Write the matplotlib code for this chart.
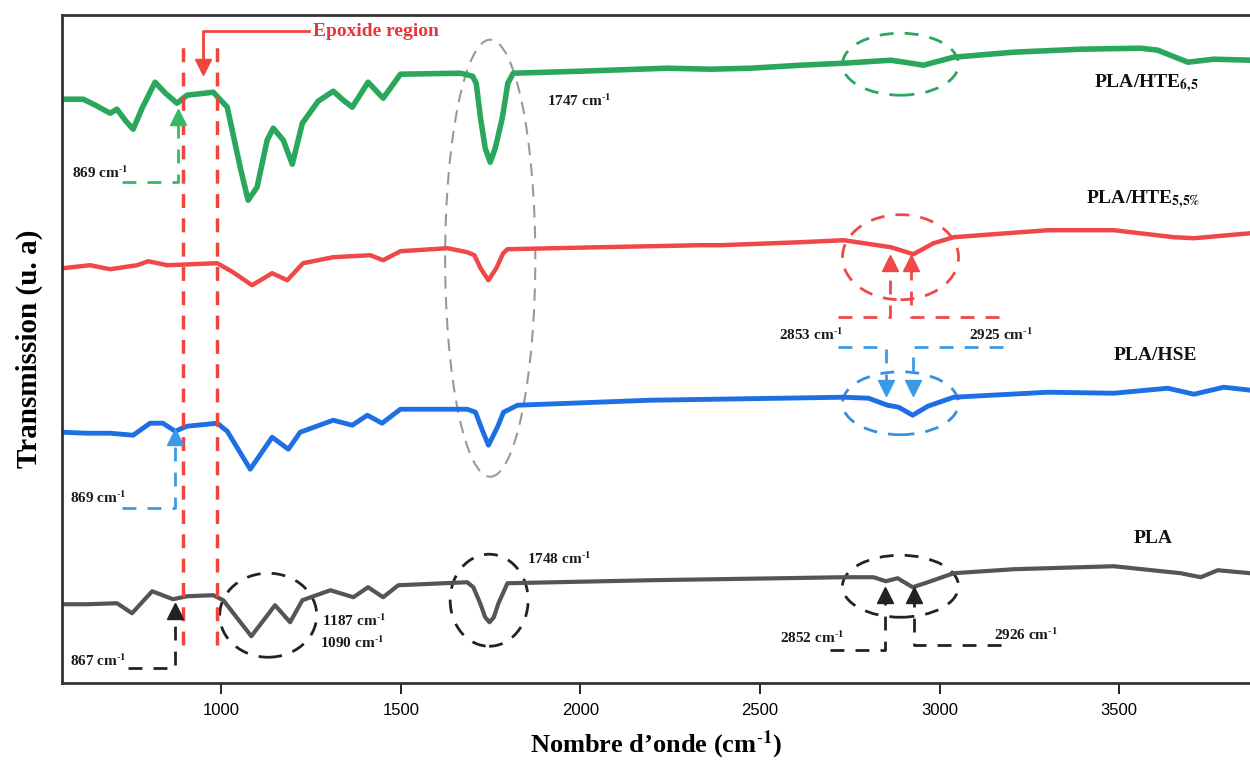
import matplotlib
matplotlib.use("Agg")
import matplotlib.pyplot as plt
from matplotlib.patches import Ellipse

plt.rcParams['font.family'] = ['Liberation Serif', 'DejaVu Serif']
plt.rcParams['mathtext.fontset'] = 'stix'

# spectra (wavenumber in cm-1, transmission in arbitrary units, already offset)
wn_hte65 = [557, 616, 650, 691, 710, 735, 755, 780, 816, 845, 877, 905, 978, 1017, 1053, 1075,
            1100, 1128, 1145, 1173, 1198, 1226, 1270, 1312, 1340, 1365, 1409, 1451, 1499, 1666,
            1700, 1710, 1722, 1735, 1749, 1763, 1783, 1798, 1813, 2000, 2242, 2362, 2474,
            2613, 2733, 2864, 2920, 2955, 3039, 3206, 3393, 3560, 3607, 3691, 3763, 3866]
tr_hte65 = [584, 584, 578, 570, 574, 562, 554, 575, 601, 590, 580, 588, 591, 576, 516, 483,
            496, 543, 555, 543, 519, 560, 582, 592, 583, 576, 601, 585, 609, 610,
            607, 600, 565, 535, 521, 535, 566, 600, 610, 612, 615, 614, 615,
            618, 620, 623, 620, 618, 626, 631, 634, 635, 633, 621, 624, 623]

wn_hte55 = [560, 635, 691, 766, 797, 850, 989, 1033, 1086, 1142, 1184, 1228, 1312, 1415, 1451,
            1499, 1630, 1685, 1705, 1722, 1744, 1766, 1785, 1797, 2056, 2334, 2390, 2613, 2733,
            2864, 2927, 2983, 3039, 3301, 3485, 3652, 3708, 3866]
tr_hte55 = [415, 418, 414, 418, 422, 418, 420, 411, 398, 410, 403, 420, 426, 428, 423,
            432, 435, 431, 428, 415, 403, 415, 430, 434, 436, 438, 438, 441, 443,
            436, 429, 440, 446, 453, 453, 446, 445, 450]

wn_hse = [557, 627, 691, 755, 802, 838, 872, 905, 989, 1017, 1081, 1142, 1187, 1220, 1312, 1365,
          1407, 1448, 1499, 1685, 1708, 1727, 1744, 1769, 1786, 1825, 2195, 2557, 2733, 2802,
          2855, 2886, 2925, 2967, 3039, 3301, 3485, 3635, 3708, 3791, 3866]
tr_hse = [251, 250, 250, 248, 260, 260, 252, 257, 260, 252, 214, 246, 234, 251, 263, 258,
          268, 260, 274, 274, 271, 253, 238, 256, 271, 278, 283, 285, 286, 285,
          278, 276, 268, 277, 286, 291, 290, 295, 289, 296, 293]

wn_pla = [557, 627, 710, 752, 808, 866, 905, 978, 1006, 1084, 1150, 1192, 1226, 1304, 1368, 1409,
          1451, 1493, 1685, 1702, 1721, 1735, 1747, 1759, 1772, 1797, 2195, 2557, 2733, 2816,
          2850, 2883, 2925, 2967, 3039, 3206, 3485, 3671, 3727, 3774, 3866]
tr_pla = [79, 79, 80, 70, 92, 84, 87, 88, 83, 47, 78, 61, 83, 93, 86, 96,
          86, 98, 101, 96, 80, 66, 61, 66, 80, 100, 103, 105, 106, 106,
          102, 105, 96, 101, 110, 114, 117, 110, 106, 113, 110]

xticks = [1000, 1500, 2000, 2500, 3000, 3500]

GREEN = '#2aa75c'
RED = '#f04848'
BLUE = '#1e6fe3'
GRAY = '#555555'

fig = plt.figure(figsize=(12.5, 7.6), dpi=100)
ax = fig.add_axes([0.0496, 0.101, 0.951, 0.879])

line_kw = dict(solid_joinstyle='round', solid_capstyle='round')
ax.plot(wn_hte65, tr_hte65, color=GREEN, lw=4, **line_kw)
ax.plot(wn_hte55, tr_hte55, color=RED, lw=3.2, **line_kw)
ax.plot(wn_hse, tr_hse, color=BLUE, lw=3.5, **line_kw)
ax.plot(wn_pla, tr_pla, color=GRAY, lw=3, **line_kw)

ax.set_xlim(557, 3866)
ax.set_ylim(0, 668)

# epoxide region
for xv in [894, 989]:
    ax.plot([xv, xv], [38, 641], color='#f0453a', lw=2.5, dashes=(4, 3))
ax.plot([950, 950, 1245], [618, 652, 652], color='#f0453a', lw=2)
ax.plot([950], [616], marker='v', color='#f0453a', ms=12)
ax.text(1256, 652, 'Epoxide region', color='#e8343a', fontsize=14, fontweight='bold', va='center')

# dashed ellipses
ax.add_patch(Ellipse((1749, 425), 251, 437, fill=False, ec='#999999', lw=1.5, ls=(0, (6, 4))))
ax.add_patch(Ellipse((2891, 619), 323, 62, fill=False, ec=GREEN, lw=2, ls=(0, (5, 4))))
ax.add_patch(Ellipse((2891, 426), 323, 85, fill=False, ec=RED, lw=2, ls=(0, (5, 4))))
ax.add_patch(Ellipse((2891, 280), 323, 63, fill=False, ec='#3a8ee0', lw=2, ls=(0, (5, 4))))
ax.add_patch(Ellipse((2891, 97), 323, 62, fill=False, ec='#222222', lw=2, ls=(0, (5, 4))))
ax.add_patch(Ellipse((1746, 83), 217, 92, fill=False, ec='#222222', lw=2, ls=(0, (5, 4))))
ax.add_patch(Ellipse((1131, 68), 270, 84, fill=False, ec='#222222', lw=2, ls=(0, (5, 4))))


def bracket_arrow(xs, ys, tip_y, color, up=True):
    ax.plot(xs, ys, color=color, lw=2, dashes=(5, 4))
    ax.plot([xs[-1]], [tip_y], marker='^' if up else 'v', color=color, ms=11)


# 869 / 867 markers
bracket_arrow([724, 880, 880], [501, 501, 558], 566, '#33bb66')
bracket_arrow([724, 872, 872], [175, 175, 238], 246, '#3a9ae6')
bracket_arrow([741, 872, 872], [15, 15, 64], 72, '#222222')

# CH stretch markers
bracket_arrow([2716, 2861, 2861], [366, 366, 412], 420, RED)
bracket_arrow([3164, 2919, 2919], [366, 366, 412], 420, RED)
bracket_arrow([2716, 2850, 2850], [336, 336, 303], 295, '#3a9ae6', up=False)
bracket_arrow([3175, 2925, 2925], [336, 336, 303], 295, '#3a9ae6', up=False)
bracket_arrow([2696, 2847, 2847], [33, 33, 80], 88, '#222222')
bracket_arrow([3170, 2928, 2928], [38, 38, 80], 88, '#222222')

ann = dict(fontsize=11, fontweight='bold', color='#1a1a1a', va='center')
cm = r' cm$^{\text{-}\mathbf{1}}$'
ax.text(585, 511, '869' + cm, **ann)
ax.text(580, 186, '869' + cm, **ann)
ax.text(580, 23, '867' + cm, **ann)
ax.text(1908, 583, '1747' + cm, **ann)
ax.text(1852, 125, '1748' + cm, **ann)
ax.text(1281, 63, '1187' + cm, **ann)
ax.text(1276, 41, '1090' + cm, **ann)
ax.text(2641, 349, '2853' + cm, ha='center', **ann)
ax.text(3170, 349, '2925' + cm, ha='center', **ann)
ax.text(2646, 46, '2852' + cm, ha='center', **ann)
ax.text(3240, 49, '2926' + cm, ha='center', **ann)

lab = dict(fontsize=14, fontweight='bold', color='#111111', va='center')
ax.text(3429, 599, r'PLA/HTE$_{\mathbf{6{,}5}}$', **lab)
ax.text(3407, 483, r'PLA/HTE$_{\mathbf{5{,}5\%}}$', **lab)
ax.text(3485, 328, 'PLA/HSE', **lab)
ax.text(3540, 145, 'PLA', **lab)

ax.set_xticks(xticks)
ax.set_yticks([])
ax.tick_params(axis='x', direction='out', length=8, width=1.2, pad=6, labelsize=12)
for t in ax.get_xticklabels():
    t.set_family(['Liberation Sans Narrow', 'Liberation Sans'])
for s in ['top', 'left', 'bottom']:
    ax.spines[s].set_linewidth(2)
    ax.spines[s].set_color('#333333')
ax.spines['right'].set_visible(False)

ax.set_xlabel(r'Nombre d’onde (cm$^{\text{-}\mathbf{1}}$)', fontsize=19, fontweight='bold', labelpad=8)
ax.set_ylabel('Transmission (u. a)', fontsize=21, fontweight='bold', labelpad=14)

fig.savefig('out.png', dpi=100)
